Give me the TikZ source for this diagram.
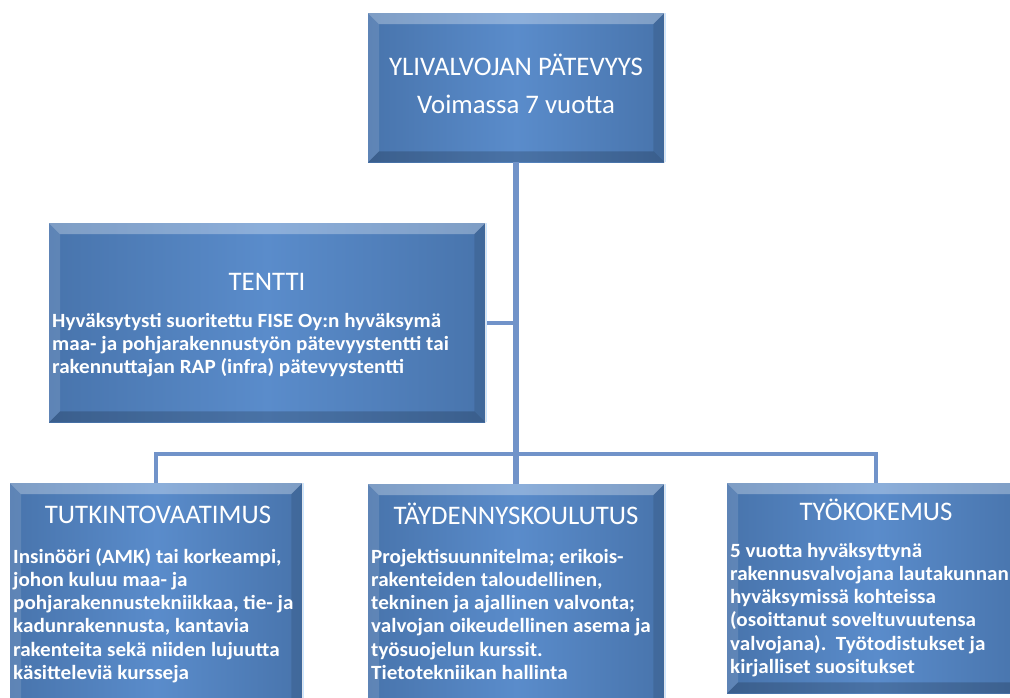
\documentclass[tikz,border=0pt]{standalone}
\usepackage{fontspec}
\setmainfont{Carlito}
\newfontfamily\bodyfont{Carlito}[FakeStretch=1.045]
\usetikzlibrary{calc}
\definecolor{faceEdge}{HTML}{4874AC}
\definecolor{faceMid}{HTML}{5A8CCB}
\definecolor{wire}{HTML}{7193C9}
\definecolor{rim}{HTML}{BFE0FF}
% bevelled panel: light top/left bands, dark right/bottom bands
\newcommand\bevelpanel[2][11]{%
  \fill[white,opacity=0.30] (#2.north west) -- (#2.north east) -- ($(#2.north east)+(-#1,#1)$) -- ($(#2.north west)+(#1,#1)$) -- cycle;
  \fill[white,opacity=0.12] (#2.north west) -- (#2.south west) -- ($(#2.south west)+(#1,-#1)$) -- ($(#2.north west)+(#1,#1)$) -- cycle;
  \fill[black,opacity=0.10] (#2.north east) -- (#2.south east) -- ($(#2.south east)+(-#1,-#1)$) -- ($(#2.north east)+(-#1,#1)$) -- cycle;
  \fill[black,opacity=0.18] (#2.south west) -- (#2.south east) -- ($(#2.south east)+(-#1,-#1)$) -- ($(#2.south west)+(#1,-#1)$) -- cycle;
  \draw[rim,line width=1.2,opacity=0.8] ($(#2.north east)+(1,0)$) -- ($(#2.south east)+(1,0)$);
}
% left-aligned lines whose baseline is the first line's
\newcommand\lines[1]{\begin{tabular}[t]{@{}l@{}}#1\end{tabular}}
\begin{document}
\begin{tikzpicture}[x=1pt,y=-1pt,
  panel/.style={rectangle, inner sep=0pt, anchor=north west,
    left color=faceEdge, right color=faceEdge, middle color=faceMid},
  heading/.style={anchor=base, inner sep=0pt, text=white,
    font=\fontsize{26.8}{31}\selectfont},
  bodytext/.style={anchor=base west, inner sep=0pt, text=white,
    font=\bodyfont\bfseries\fontsize{20.2}{23.3}\selectfont},
  link/.style={draw=wire, line width=4},
  trunk/.style={draw=wire, line width=6.5}]
\useasboundingbox (0,0) rectangle (1010,697);

% panels
\node[panel, minimum width=296, minimum height=149] (top) at (368,13) {};
\node[panel, minimum width=436, minimum height=199] (tentti) at (49,223) {};
\node[panel, minimum width=292, minimum height=230] (tutk) at (10,483) {};
\node[panel, minimum width=296, minimum height=230] (tayd) at (368,484) {};
\node[panel, minimum width=298, minimum height=210] (tyo) at (727,483) {};
\bevelpanel{top}
\bevelpanel{tentti}
\bevelpanel{tutk}
\bevelpanel{tayd}
\bevelpanel{tyo}

% connectors
\coordinate (hub) at (516,454);
\draw[trunk] (top.south) -- (tayd.north);
\draw[link] ($(tentti.east)+(2,0)$) -- (tentti.east -| top.south);
\draw[link] (tutk.north) |- (hub) -| (tyo.north);

% texts
\node[heading] (topA) at (516,75) {YLIVALVOJAN PÄTEVYYS};
\node[heading] (topB) at (516,113) {Voimassa 7 vuotta};

\node[heading] (tenttiT) at (267,290) {TENTTI};
\node[bodytext] (tenttiB) at (52,327) {\lines{Hyväksytysti suoritettu FISE Oy:n hyväksymä\\
maa- ja pohjarakennustyön pätevyystentti tai\\
rakennuttajan RAP (infra) pätevyystentti}};

\node[heading] (tutkT) at (158,523) {TUTKINTOVAATIMUS};
\node[bodytext] (tutkB) at (13,563) {\lines{Insinööri (AMK) tai korkeampi,\\
johon kuluu maa- ja\\
pohjarakennustekniikkaa, tie- ja\\
kadunrakennusta, kantavia\\
rakenteita sekä niiden lujuutta\\
käsitteleviä kursseja}};

\node[heading] (taydT) at (516,524) {TÄYDENNYSKOULUTUS};
\node[bodytext] (taydB) at (371,563) {\lines{Projektisuunnitelma; erikois-\\
rakenteiden taloudellinen,\\
tekninen ja ajallinen valvonta;\\
valvojan oikeudellinen asema ja\\
työsuojelun kurssit.\\
Tietotekniikan hallinta}};

\node[heading] (tyoT) at (876,520) {TYÖKOKEMUS};
\node[bodytext] (tyoB) at (730,557) {\lines{5 vuotta hyväksyttynä\\
rakennusvalvojana lautakunnan\\
hyväksymissä kohteissa\\
(osoittanut soveltuvuutensa\\
valvojana).\ \ Työtodistukset ja\\
kirjalliset suositukset}};
\end{tikzpicture}
\end{document}
